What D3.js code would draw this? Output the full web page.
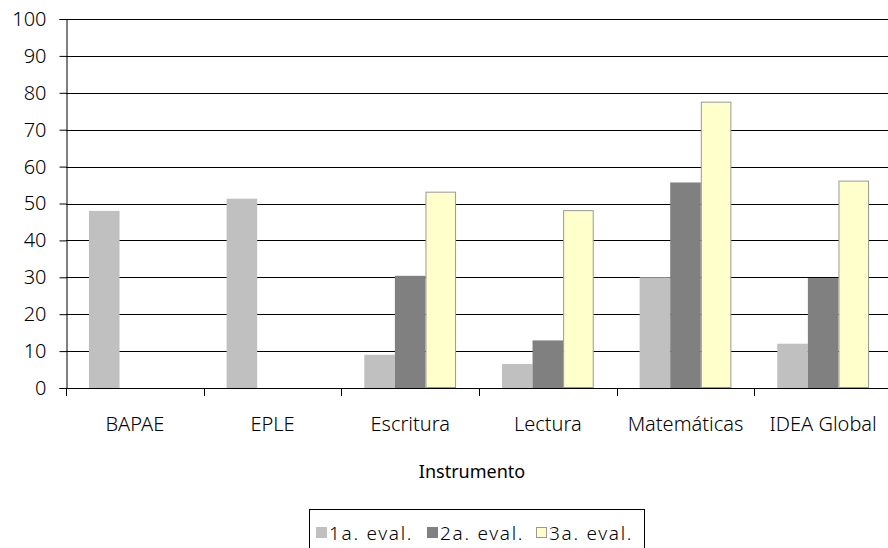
<!DOCTYPE html>
<html><head><meta charset="utf-8">
<script src="https://cdn.jsdelivr.net/npm/d3@7"></script>
<style>
body{margin:0;background:#fff;}
svg{display:block;font-family:"Noto Sans",sans-serif;font-weight:300;}
</style></head>
<body><svg id="c" width="888" height="548"></svg>
<script>
const categories = ["BAPAE","EPLE","Escritura","Lectura","Matemáticas","IDEA Global"];
const seriesNames = ["1a. eval.","2a. eval.","3a. eval."];
const eval1 = [48, 51.3, 9, 6.5, 30, 12];
const eval2 = [0, 0, 30.4, 12.9, 55.7, 29.8];
const eval3 = [0, 0, 53.2, 48.2, 77.6, 56.2];
const yTicks = [0,10,20,30,40,50,60,70,80,90,100];
const colors = ["#C0C0C0","#808080","#FFFFCC"];
const strokes = ["none","none","#999999"];
const xTitle = "Instrumento";

const svg = d3.select("#c");
const L = 66, R = 892, T = 19, B = 388;
const x = d3.scaleBand().domain(categories).range([L, R]);
const y = d3.scaleLinear().domain([0,100]).range([B, T]);
const bw = x.bandwidth();
const barW = bw / 4.5;
const xs = d3.scaleBand().domain([0,1,2]).range([barW*0.75, barW*3.75]);

// gridlines
svg.append("g").selectAll("line").data(yTicks.slice(1)).join("line")
  .attr("x1", L).attr("x2", 888).attr("y1", d => Math.round(y(d))+0.5).attr("y2", d => Math.round(y(d))+0.5)
  .attr("stroke", "#000").attr("stroke-width", 1);

const series = [eval1, eval2, eval3];
series.forEach((vals, si) => {
  const st = strokes[si] !== "none";
  svg.append("g").selectAll("rect").data(vals.map((v,i)=>({c:categories[i], v})).filter(d => d.v > 0))
    .join("rect")
    .attr("x", d => x(d.c) + xs(si) + (st?0.5:0))
    .attr("y", d => y(d.v) + (st?0.5:0))
    .attr("width", barW - (st?1:0))
    .attr("height", d => y(0) - y(d.v) - (st?1:0))
    .attr("fill", colors[si])
    .attr("stroke", strokes[si]);
});

// y axis
const yAxis = svg.append("g").attr("transform", `translate(${L+0.5},0)`)
  .call(d3.axisLeft(y).tickValues(yTicks).tickSize(7).tickPadding(13));
yAxis.select(".domain").attr("stroke","#000");
yAxis.selectAll(".tick line").attr("stroke","#000");
yAxis.selectAll("text").attr("font-size","20px").attr("fill","#000").attr("font-family","'Noto Sans',sans-serif");

// x axis
const xAxis = svg.append("g").attr("transform", `translate(0,${B+0.5})`)
  .call(d3.axisBottom(x).tickSize(0).tickPadding(28));
xAxis.select(".domain").attr("d", `M${L},0H888`).attr("stroke","#000");
xAxis.selectAll("text").attr("font-size","20px").attr("fill","#000").attr("font-family","'Noto Sans',sans-serif");
const bounds = categories.map(c => x(c)).concat([R]);
svg.append("g").selectAll("line").data(bounds).join("line")
  .attr("x1", d => Math.round(d)+0.5).attr("x2", d => Math.round(d)+0.5)
  .attr("y1", B).attr("y2", B+8).attr("stroke","#000");

svg.append("text").attr("x", 472).attr("y", 478).attr("text-anchor","middle")
  .attr("font-size","18px").attr("font-weight", 400).attr("fill","#000").text(xTitle);

// legend
const lg = svg.append("g");
lg.append("rect").attr("x",309.5).attr("y",509.5).attr("width",335).attr("height",50)
  .attr("fill","#fff").attr("stroke","#000");
const legX = [316, 427, 536];
seriesNames.forEach((n,i) => {
  lg.append("rect").attr("x", legX[i]+0.5).attr("y", 527.5).attr("width", 10).attr("height", 10)
    .attr("fill", colors[i]).attr("stroke", i===2 ? "#999" : colors[i]);
  lg.append("text").attr("x", legX[i]+13).attr("y", 540).attr("font-size","19px")
    .attr("letter-spacing","1.7px").attr("fill","#000").text(n);
});
</script></body></html>
